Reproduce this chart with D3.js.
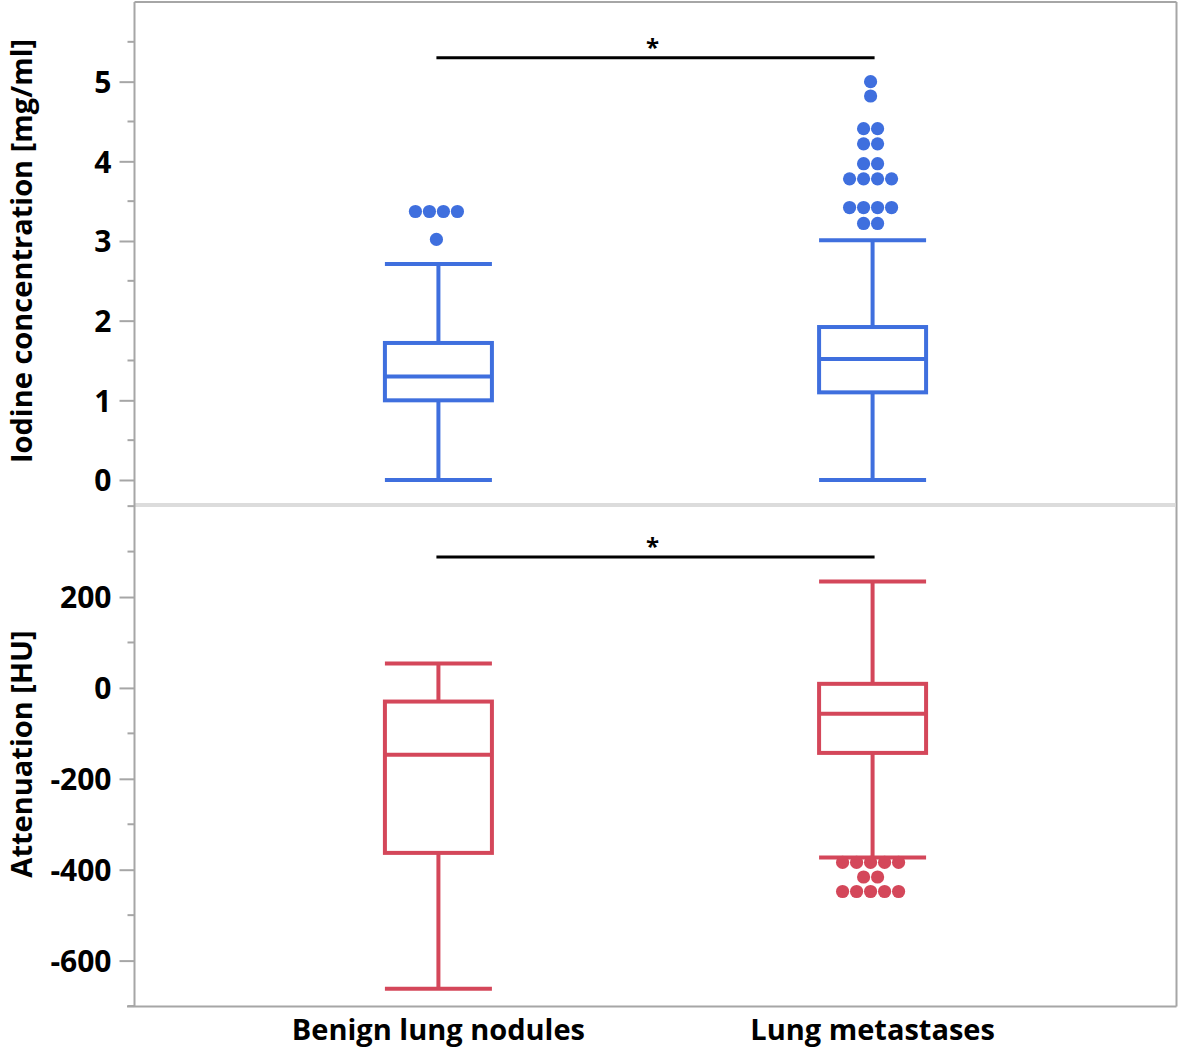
<!DOCTYPE html>
<html><head><meta charset="utf-8">
<script src="https://cdn.jsdelivr.net/npm/d3@7"></script>
<style>body{margin:0;background:#fff}svg{display:block}text{font-family:"Open Sans","Noto Sans",sans-serif;font-weight:700}</style>
</head><body><svg id="c" width="1181" height="1049"></svg>
<script>
const categories = ["Benign lung nodules", "Lung metastases"];
// [whiskerLow, Q1, median, Q3, whiskerHigh]
const iodineStats = [[0, 1.0, 1.30, 1.72, 2.71], [0, 1.10, 1.52, 1.92, 3.01]];
const attenuationStats = [[-662, -363, -147, -30, 54], [-373, -143, -57, 9, 234]];
const iodineOutliers = [
  [3.37, 3.37, 3.37, 3.37, 3.02],
  [5.0, 4.82, 4.41, 4.41, 4.22, 4.22, 3.97, 3.97, 3.78, 3.78, 3.78, 3.78, 3.42, 3.42, 3.42, 3.42, 3.22, 3.22]
];
const attenuationOutliers = [
  [],
  [-384, -384, -384, -384, -384, -416, -416, -448, -448, -448, -448, -448]
];
const iodineTicks = [0, 1, 2, 3, 4, 5];
const attenuationTicks = [-600, -400, -200, 0, 200];
const iodineSig = 5.3, attenuationSig = 288;

const svg = d3.select("#c");
const L = 134.5, R = 1176.5, T = 2, MID = 505, B = 1006.5;
const x = d3.scalePoint().domain(categories).range([L, R]).padding(0.7);
const yTop = d3.scaleLinear().domain([-0.314, 6.0]).range([MID, T]);
const yBot = d3.scaleLinear().domain([-701, 402.5]).range([B, MID]);
const blue = "#3f6fde", red = "#d4475a";
const boxW = 107, dotR = 6.6, dotStep = 14;

// frame
svg.append("line").attr("x1", L).attr("x2", R).attr("y1", T).attr("y2", T).attr("stroke", "#a6a6a6").attr("stroke-width", 2);
svg.append("line").attr("x1", R).attr("x2", R).attr("y1", T).attr("y2", B).attr("stroke", "#a6a6a6").attr("stroke-width", 2);
svg.append("line").attr("x1", 127).attr("x2", R).attr("y1", B).attr("y2", B).attr("stroke", "#a6a6a6").attr("stroke-width", 2);
svg.append("line").attr("x1", L).attr("x2", R - 1).attr("y1", MID).attr("y2", MID).attr("stroke", "#dcdcdc").attr("stroke-width", 4);

function axis(y, ticks, minorStep) {
  const g = svg.append("g").attr("transform", `translate(${L},0)`);
  const ax = d3.axisLeft(y).tickValues(ticks).tickSize(15).tickPadding(8).tickFormat(d => String(d));
  g.call(ax);
  g.select(".domain").remove();
  g.append("line").attr("x1", 0).attr("x2", 0).attr("y1", y.range()[0]).attr("y2", y.range()[1]).attr("stroke", "#a6a6a6").attr("stroke-width", 2);
  g.selectAll(".tick line").attr("stroke", "#a6a6a6").attr("stroke-width", 2);
  g.selectAll(".tick text").attr("font-size", 30).attr("fill", "#000").attr("font-family", "'Open Sans'").attr("font-weight", 700).attr("dy", "0.36em");
  const [d0, d1] = y.domain();
  const minors = d3.range(Math.ceil(d0 / minorStep) * minorStep, d1, minorStep).filter(v => !ticks.some(t => Math.abs(t - v) < 1e-9));
  g.selectAll(".minor").data(minors).join("line").attr("x1", -7).attr("x2", 0)
    .attr("y1", d => y(d)).attr("y2", d => y(d)).attr("stroke", "#a6a6a6").attr("stroke-width", 2);
}
axis(yTop, iodineTicks, 0.5);
axis(yBot, attenuationTicks, 100);

function boxes(y, stats, outliers, color) {
  categories.forEach((c, i) => {
    const cx = x(c), s = stats[i];
    const g = svg.append("g").attr("stroke", color).attr("stroke-width", 4).attr("fill", "none");
    g.append("line").attr("x1", cx).attr("x2", cx).attr("y1", y(s[0])).attr("y2", y(s[1]));
    g.append("line").attr("x1", cx).attr("x2", cx).attr("y1", y(s[3])).attr("y2", y(s[4]));
    g.append("line").attr("x1", cx - boxW / 2).attr("x2", cx + boxW / 2).attr("y1", y(s[0])).attr("y2", y(s[0]));
    g.append("line").attr("x1", cx - boxW / 2).attr("x2", cx + boxW / 2).attr("y1", y(s[4])).attr("y2", y(s[4]));
    g.append("rect").attr("x", cx - boxW / 2).attr("y", y(s[3])).attr("width", boxW).attr("height", y(s[1]) - y(s[3]));
    g.append("line").attr("x1", cx - boxW / 2).attr("x2", cx + boxW / 2).attr("y1", y(s[2])).attr("y2", y(s[2]));
    const groups = d3.groups(outliers[i], d => d);
    const pts = [];
    groups.forEach(([v, arr]) => arr.forEach((d, k) => pts.push({v, dx: (k - (arr.length - 1) / 2) * dotStep})));
    svg.append("g").selectAll("circle").data(pts).join("circle")
      .attr("cx", d => cx - 2 + d.dx).attr("cy", d => y(d.v)).attr("r", dotR).attr("fill", color);
  });
}
boxes(yTop, iodineStats, iodineOutliers, blue);
boxes(yBot, attenuationStats, attenuationOutliers, red);

function sig(y, v) {
  const x1 = x(categories[0]) - 2, x2 = x(categories[1]) + 2;
  svg.append("line").attr("x1", x1).attr("x2", x2).attr("y1", y(v)).attr("y2", y(v)).attr("stroke", "#000").attr("stroke-width", 3);
  svg.append("text").attr("x", (x1 + x2) / 2 - 3).attr("y", y(v) - 2).attr("text-anchor", "middle").attr("font-size", 24).text("*");
}
sig(yTop, iodineSig);
sig(yBot, attenuationSig);

// axis titles
svg.append("text").attr("transform", `translate(32,251) rotate(-90)`)
  .attr("text-anchor", "middle").attr("font-size", 29).text("Iodine concentration [mg/ml]");
svg.append("text").attr("transform", `translate(32,754) rotate(-90)`)
  .attr("text-anchor", "middle").attr("font-size", 29).text("Attenuation [HU]");

// category labels
svg.append("g").selectAll("text").data(categories).join("text")
  .attr("x", d => x(d)).attr("y", 1040).attr("text-anchor", "middle").attr("font-size", 29).text(d => d);
</script></body></html>
